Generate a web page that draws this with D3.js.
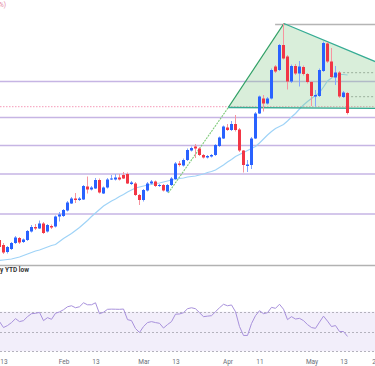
<!DOCTYPE html>
<html><head><meta charset="utf-8">
<script src="https://cdn.jsdelivr.net/npm/d3@7"></script>
<style>html,body{margin:0;padding:0;background:#fff;overflow:hidden}svg{display:block}</style>
</head><body><svg id="c" width="375" height="366"></svg>
<script>
const opens=[105.0,104.0,102.6,103.2,104.4,105.4,104.6,105.0,106.7,107.6,
107.3,108.3,106.7,107.8,107.7,109.7,109.8,110.9,112.3,113.3,
113.0,113.1,115.7,115.1,115.3,117.0,114.3,115.5,117.1,117.1,
117.5,118.0,118.2,116.2,116.3,114.0,113.0,114.9,116.3,116.7,
115.8,116.0,114.7,116.0,117.2,120.3,119.9,121.0,122.9,123.7,
123.3,122.0,121.5,121.7,122.0,123.8,125.3,127.5,127.0,128.2,
127.1,122.9,119.8,120.0,125.3,130.3,133.3,132.3,133.3,139.7,
139.0,144.0,141.7,136.7,139.8,138.3,139.6,138.2,136.6,133.7,
133.8,138.8,144.3,140.7,137.5,138.5,133.6,134.4];
const highs=[105.4,104.4,103.8,104.6,105.8,105.6,105.3,107.0,108.0,108.2,
108.9,108.6,108.2,108.1,109.9,110.6,111.2,112.8,113.6,114.4,
113.6,116.0,117.7,115.8,117.4,117.3,115.7,117.4,118.0,118.2,
118.2,118.6,118.5,116.8,116.6,114.2,115.2,116.6,117.0,116.9,
116.2,116.2,116.2,117.6,120.6,120.8,121.3,123.3,123.7,124.2,
123.5,122.2,122.0,122.2,124.2,125.7,127.9,128.2,128.8,130.0,
127.4,123.0,121.0,125.6,130.6,133.9,134.0,133.6,139.3,140.0,
144.2,148.3,142.0,140.1,140.2,140.8,139.9,138.4,136.8,135.0,
139.3,144.7,144.6,143.4,139.8,138.8,134.8,134.6];
const lows=[103.2,102.2,102.3,103.0,104.2,104.2,104.4,104.8,106.5,107.0,
107.2,106.2,106.5,107.2,107.5,108.7,109.6,110.7,112.2,112.4,
112.8,113.0,114.3,114.9,115.2,114.3,114.2,115.3,117.0,116.9,
116.9,117.2,116.2,116.0,113.8,112.0,112.7,114.7,116.1,115.6,
115.6,114.7,114.5,115.8,117.0,119.7,119.7,120.8,122.7,121.4,
121.8,121.3,121.3,121.5,121.8,123.6,125.2,126.8,126.8,126.7,
122.6,118.5,118.6,119.2,125.2,130.2,130.7,132.1,133.1,138.4,
138.8,141.1,135.1,136.4,138.0,135.7,137.9,136.3,131.8,131.7,
133.6,138.6,140.4,137.4,136.0,133.4,133.4,130.1];
const closes=[103.6,102.5,103.6,104.4,105.5,104.5,105.1,106.8,107.6,107.3,
108.3,106.4,108.0,107.5,109.7,110.1,111.0,112.5,113.3,113.0,
113.3,115.8,115.1,115.5,117.0,114.5,115.5,117.1,117.3,117.5,
117.1,117.3,116.3,116.5,114.0,113.0,115.0,116.3,116.7,115.8,
116.0,114.9,116.0,117.3,120.3,120.0,121.0,123.0,123.4,123.3,
122.0,121.5,121.8,122.0,124.0,125.5,127.7,127.0,128.2,127.0,
122.9,120.0,120.1,125.3,130.3,133.7,132.3,133.3,139.0,138.7,
144.0,141.3,136.7,139.8,138.3,139.7,138.2,136.6,133.8,134.0,
139.0,144.4,140.7,137.6,138.5,133.7,134.5,130.4];
const maValues=[100.9,101.0,101.1,101.2,101.4,101.6,101.9,102.2,102.5,102.8,
103.0,103.3,103.6,103.9,104.1,104.7,105.3,105.8,106.3,106.9,
107.5,108.2,108.9,109.7,110.4,111.1,111.8,112.3,112.8,113.2,
113.7,114.1,114.6,115.0,115.4,115.6,115.8,116.0,116.1,116.3,
116.4,116.6,116.8,117.0,117.1,117.3,117.4,117.6,117.7,117.8,
118.0,118.2,118.5,118.7,119.0,119.5,120.0,120.6,121.1,121.7,
122.1,122.5,122.9,123.3,123.7,124.4,125.2,126.0,126.7,127.3,
127.7,128.1,128.8,129.6,130.3,131.2,132.0,132.7,133.3,133.9,
134.5,135.6,136.8,137.4,137.9,138.1,138.1,138.0];
const rsiValues=[60,54,56,59,63,60,61,65,68,68.4,
69.3,61,64,62.3,68.4,69.8,72,75,76,74,
75,79,77,77,79,68,69.4,72.4,72.6,72.5,
72.4,72.7,62,61,53,49,55,59,60,59,
58.3,53.5,57,60,67.5,67.7,69,73,74,73,
69,65,65.5,66,70,74,77.5,76,76.8,70,
55,46,46,58,66,71,68,69,74.4,73.4,
77.5,72.5,62,65,62.6,63.3,61,57,54,53.2,
59.5,65.5,60.5,55,56,50,50,45];
const tickLabels=["13","Feb","13","Mar","13","Apr","11","May","13","20"];
const tickIndex=[1,16,24,36,44,57,65,78,86,94];
const purpleLevels=[136.7,129.5,123.9,118.2,110.2];
const pinkLevel=131.66;
const grayLevel={from:68.9,price:148.1};
const grayDotted={from:85.9,prices:[138.46,133.66]};
const triangle=[[57.2,131.5],[71.1,148.3],[122.3,131.2]];
const trendLine=[[42.2,114.4],[57.2,131.5]];
const rsiLevels=[70,50,30];

const W=375;
const svg=d3.select('#c');
const x=d3.scaleLinear().domain([0.125,93.875]).range([0,W]);
const y=d3.scaleLinear().domain([100,153]).range([265,0]);
const yr=d3.scaleLinear().domain([30,70]).range([351.3,311.7]);
const idx=d3.range(opens.length);
const ptLine=d3.line().x(d=>x(d[0])).y(d=>y(d[1]));

// RSI pane background band
svg.append('rect').attr('x',0).attr('width',W).attr('y',yr(70)).attr('height',yr(30)-yr(70)).attr('fill','#f2eefa');
svg.selectAll('line.rl').data(rsiLevels).enter().append('line')
  .attr('x1',0).attr('x2',W).attr('y1',d=>Math.round(yr(d))+0.5).attr('y2',d=>Math.round(yr(d))+0.5)
  .attr('stroke','#b4b2bd').attr('stroke-width',1).attr('stroke-dasharray','2,2');
svg.append('path').datum(idx).attr('fill','none').attr('stroke','#a891dc').attr('stroke-width',1)
  .attr('d',d3.line().x(i=>x(i)).y(i=>yr(rsiValues[i])));

// pane separator
svg.append('line').attr('x1',0).attr('x2',W).attr('y1',265.5).attr('y2',265.5).attr('stroke','#b2b2b2').attr('stroke-width',1.5);

// levels
svg.selectAll('line.pl').data(purpleLevels).enter().append('line')
  .attr('x1',0).attr('x2',W).attr('y1',d=>y(d)).attr('y2',d=>y(d))
  .attr('stroke','#c6b5e4').attr('stroke-width',1.6);
svg.append('line').attr('x1',0).attr('x2',W).attr('y1',y(pinkLevel)).attr('y2',y(pinkLevel))
  .attr('stroke','#f59ab8').attr('stroke-width',1).attr('stroke-dasharray','1.5,1.5');
svg.append('line').attr('x1',x(grayLevel.from)).attr('x2',W).attr('y1',y(grayLevel.price)).attr('y2',y(grayLevel.price))
  .attr('stroke','#b5b5b5').attr('stroke-width',1.5);
svg.selectAll('line.gd').data(grayDotted.prices).enter().append('line')
  .attr('x1',x(grayDotted.from)).attr('x2',W).attr('y1',d=>y(d)).attr('y2',d=>y(d))
  .attr('stroke','#a5a5a5').attr('stroke-width',1).attr('stroke-dasharray','2,2');

// moving average
svg.append('path').datum(idx).attr('fill','none').attr('stroke','#9fd3f7').attr('stroke-width',1.2)
  .attr('d',d3.line().x(i=>x(i)).y(i=>y(maValues[i])));

// trend line (dotted green)
svg.append('path').datum(trendLine).attr('fill','none').attr('stroke','#7fcb7a').attr('stroke-width',1.1)
  .attr('stroke-dasharray','2,1').attr('d',ptLine);

// triangle
svg.append('path').datum(triangle).attr('fill','rgba(129,199,132,0.3)').attr('stroke','none')
  .attr('d',d=>ptLine(d)+'Z');
svg.append('path').datum([triangle[0],triangle[1]]).attr('fill','none').attr('stroke','#2fa065').attr('stroke-width',1.3)
  .attr('d',ptLine);
svg.append('path').datum([triangle[1],triangle[2],triangle[0]]).attr('fill','none').attr('stroke','#36ac94').attr('stroke-width',1.3)
  .attr('d',ptLine);

// candles
const up='#2962ff',dn='#f23645';
const g=svg.append('g');
g.selectAll('line.w').data(idx).enter().append('line')
  .attr('x1',i=>x(i)).attr('x2',i=>x(i)).attr('y1',i=>y(highs[i])).attr('y2',i=>y(lows[i]))
  .attr('stroke',i=>closes[i]>=opens[i]?'#84a6ff':'#f7949f').attr('stroke-width',1);
g.selectAll('rect.b').data(idx).enter().append('rect')
  .attr('x',i=>x(i)-1.5).attr('width',3)
  .attr('y',i=>y(Math.max(opens[i],closes[i])))
  .attr('height',i=>Math.max(1,Math.abs(y(opens[i])-y(closes[i]))))
  .attr('fill',i=>closes[i]>=opens[i]?up:dn);

// texts
svg.append('text').attr('x',-1).attr('y',7).attr('font-family','Roboto, sans-serif').attr('font-size',6.5)
  .attr('fill','#e47fa0').text('%)');
svg.append('text').attr('x',0).attr('y',272).attr('font-family','Roboto, sans-serif').attr('font-size',6.5)
  .attr('font-weight','bold').attr('fill','#333').text('y YTD low');

// x axis
const ax=d3.axisBottom(x).tickValues(tickIndex).tickFormat((d,i)=>tickLabels[i]).tickSize(0).tickPadding(2);
const axg=svg.append('g').attr('transform','translate(0,357)').call(ax);
axg.select('.domain').remove();
axg.selectAll('text').attr('font-family','Roboto, sans-serif').attr('font-size',6.5).attr('fill','#6b6e78');
</script></body></html>
